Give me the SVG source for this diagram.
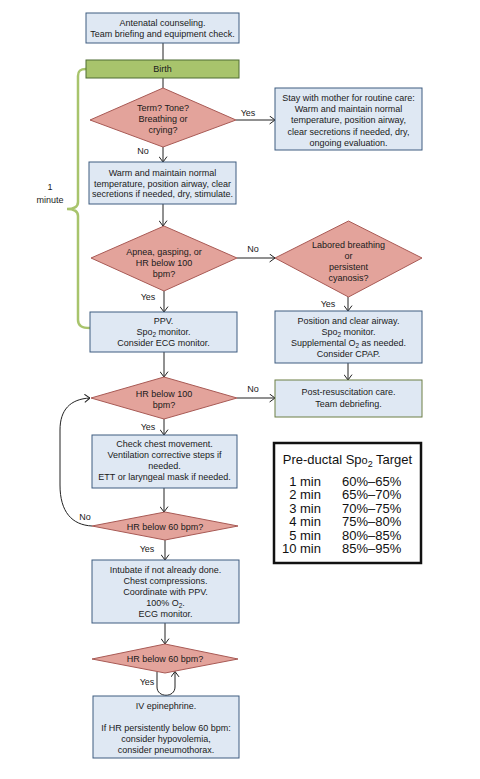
<svg xmlns="http://www.w3.org/2000/svg" width="480" height="779" viewBox="0 0 480 779">
<defs>
<marker id="ah" viewBox="0 0 6 9" refX="5.8" refY="4.5" markerWidth="6" markerHeight="9" orient="auto" markerUnits="userSpaceOnUse">
<path d="M0.4,0.5 L5.8,4.5 L0.4,8.5" fill="none" stroke="#222" stroke-width="1"/>
</marker>
<style>
.box{fill:#dfe8f3;stroke:#3e5d80;stroke-width:1}
.dia{fill:#e3a39b;stroke:#a85a55;stroke-width:1}
.grn{fill:#a8c46c;stroke:#4f6d33;stroke-width:1}
.post{fill:#dfe8f3;stroke:#6d7f45;stroke-width:1}
text{font-family:"Liberation Sans",Arial,sans-serif;font-size:9px;fill:#1a1a1a}
.c{text-anchor:middle}
.tb{font-size:13px;fill:#111}
.ln{fill:none;stroke:#222;stroke-width:1}
</style>
</defs>
<rect width="480" height="779" fill="#fff"/>

<g id="brace">
<path d="M86,69 C80,69 78,71 78,76 L78,202 C78,206 75,209 67,209 C75,209 78,212 78,216 L78,320 C78,326 82,328 90,328" fill="none" stroke="#a8c46c" stroke-width="2.5"/>
<text class="c" x="50" y="190">1</text>
<text class="c" x="50" y="202.5">minute</text>
</g>

<g id="connectors">
<path class="ln" d="M163,43 L163,60"/>
<path class="ln" d="M163,78 L163,88"/>
<path class="ln" d="M236,120 L275,120" marker-end="url(#ah)"/>
<path class="ln" d="M163,147 L163,162" marker-end="url(#ah)"/>
<path class="ln" d="M163,204 L163,226" marker-end="url(#ah)"/>
<path class="ln" d="M237,258 L275,258" marker-end="url(#ah)"/>
<path class="ln" d="M164,291 L164,312" marker-end="url(#ah)"/>
<path class="ln" d="M348,297 L348,311" marker-end="url(#ah)"/>
<path class="ln" d="M348,363 L348,380" marker-end="url(#ah)"/>
<path class="ln" d="M164,352 L164,377" marker-end="url(#ah)"/>
<path class="ln" d="M237,398 L275,398" marker-end="url(#ah)"/>
<path class="ln" d="M164,419 L164,435" marker-end="url(#ah)"/>
<path class="ln" d="M164,488 L164,512" marker-end="url(#ah)"/>
<path class="ln" d="M165,540 L165,560" marker-end="url(#ah)"/>
<path class="ln" d="M165,623 L165,644" marker-end="url(#ah)"/>
<path class="ln" d="M92,526 C72,525 60,512 60,485 L60,430 C60,410 70,399 90,398" marker-end="url(#ah)"/>
<path class="ln" d="M157,672 L157,687 C157,698 175,698 175,687 L175,671.5" marker-end="url(#ah)"/>
<text class="c" x="248" y="116">Yes</text>
<text class="c" x="143" y="154">No</text>
<text class="c" x="253" y="252">No</text>
<text class="c" x="148" y="300">Yes</text>
<text class="c" x="328" y="307">Yes</text>
<text class="c" x="253" y="392">No</text>
<text class="c" x="148" y="430">Yes</text>
<text class="c" x="85" y="520">No</text>
<text class="c" x="147" y="552">Yes</text>
<text class="c" x="147" y="685">Yes</text>
</g>

<g id="antenatal">
<rect class="box" x="86" y="13" width="153" height="30"/>
<text class="c" x="162.5" y="25.5">Antenatal counseling.</text>
<text class="c" x="162.5" y="36.5">Team briefing and equipment check.</text>
</g>

<g id="birth">
<rect class="grn" x="86" y="60" width="153" height="18"/>
<text class="c" x="162.5" y="72">Birth</text>
</g>

<g id="term">
<polygon class="dia" points="163,88 236,120 163,147 90,120"/>
<text class="c" x="163" y="110.5">Term? Tone?</text>
<text class="c" x="163" y="121.5">Breathing or</text>
<text class="c" x="163" y="132.5">crying?</text>
</g>

<g id="routine">
<rect class="box" x="275" y="88" width="147" height="62"/>
<text class="c" x="348.5" y="101">Stay with mother for routine care:</text>
<text class="c" x="348.5" y="112">Warm and maintain normal</text>
<text class="c" x="348.5" y="123">temperature, position airway,</text>
<text class="c" x="348.5" y="134.5">clear secretions if needed, dry,</text>
<text class="c" x="348.5" y="145.5">ongoing evaluation.</text>
</g>

<g id="warm">
<rect class="box" x="89" y="162" width="147" height="42"/>
<text class="c" x="162.5" y="175.5">Warm and maintain normal</text>
<text class="c" x="162.5" y="186.5">temperature, position airway, clear</text>
<text class="c" x="162.5" y="197">secretions if needed, dry, stimulate.</text>
</g>

<g id="apnea">
<polygon class="dia" points="164,226 237,258 164,291 91,258"/>
<text class="c" x="164" y="255">Apnea, gasping, or</text>
<text class="c" x="164" y="266">HR below 100</text>
<text class="c" x="164" y="277">bpm?</text>
</g>

<g id="labored">
<polygon class="dia" points="348.5,221 422,258 348.5,297 275,258"/>
<text class="c" x="348.5" y="248">Labored breathing</text>
<text class="c" x="348.5" y="259">or</text>
<text class="c" x="348.5" y="270">persistent</text>
<text class="c" x="348.5" y="281">cyanosis?</text>
</g>

<g id="ppv">
<rect class="box" x="90" y="312" width="147" height="40"/>
<text class="c" x="163.5" y="324">PPV.</text>
<text class="c" x="163.5" y="335">Spo<tspan font-size="6.5" dy="2">2</tspan><tspan dy="-2"> monitor.</tspan></text>
<text class="c" x="163.5" y="346">Consider ECG monitor.</text>
</g>

<g id="position">
<rect class="box" x="275" y="311" width="147" height="52"/>
<text class="c" x="348.5" y="324">Position and clear airway.</text>
<text class="c" x="348.5" y="335">Spo<tspan font-size="6.5" dy="2">2</tspan><tspan dy="-2"> monitor.</tspan></text>
<text class="c" x="348.5" y="346">Supplemental O<tspan font-size="6.5" dy="2">2</tspan><tspan dy="-2"> as needed.</tspan></text>
<text class="c" x="348.5" y="357">Consider CPAP.</text>
</g>

<g id="post">
<rect class="post" x="275" y="380" width="147" height="37"/>
<text class="c" x="348.5" y="395">Post-resuscitation care.</text>
<text class="c" x="348.5" y="406.5">Team debriefing.</text>
</g>

<g id="hr100">
<polygon class="dia" points="164,377 237,398 164,419 91,398"/>
<text class="c" x="164" y="397">HR below 100</text>
<text class="c" x="164" y="408">bpm?</text>
</g>

<g id="chest">
<rect class="box" x="92" y="435" width="145" height="53"/>
<text class="c" x="164.5" y="447">Check chest movement.</text>
<text class="c" x="164.5" y="458">Ventilation corrective steps if</text>
<text class="c" x="164.5" y="469">needed.</text>
<text class="c" x="164.5" y="480">ETT or laryngeal mask if needed.</text>
</g>

<g id="hr60a">
<polygon class="dia" points="165,512 238,526 165,540 92,526"/>
<text class="c" x="165" y="529.5">HR below 60 bpm?</text>
</g>

<g id="intubate">
<rect class="box" x="92" y="560" width="147" height="63"/>
<text class="c" x="165.5" y="573">Intubate if not already done.</text>
<text class="c" x="165.5" y="584">Chest compressions.</text>
<text class="c" x="165.5" y="595">Coordinate with PPV.</text>
<text class="c" x="165.5" y="606">100% O<tspan font-size="6.5" dy="2">2</tspan><tspan dy="-2">.</tspan></text>
<text class="c" x="165.5" y="617">ECG monitor.</text>
</g>

<g id="hr60b">
<polygon class="dia" points="165,644 238,659 165,673 92,659"/>
<text class="c" x="165" y="662">HR below 60 bpm?</text>
</g>

<g id="epi">
<rect class="box" x="93" y="696" width="146" height="62"/>
<text class="c" x="166" y="709">IV epinephrine.</text>
<text class="c" x="166" y="731">If HR persistently below 60 bpm:</text>
<text class="c" x="166" y="741.5">consider hypovolemia,</text>
<text class="c" x="166" y="752.5">consider pneumothorax.</text>
</g>

<g id="target">
<rect x="274" y="443" width="147" height="120" fill="#fff" stroke="#111" stroke-width="2.5"/>
<text class="tb c" x="347.5" y="464">Pre-ductal Sp<tspan font-size="11">o</tspan><tspan font-size="9" dy="2.5">2</tspan><tspan dy="-2.5"> Target</tspan></text>
<g class="tb" text-anchor="end">
<text class="tb" text-anchor="end" x="321" y="486">1 min</text>
<text class="tb" text-anchor="end" x="321" y="499.4">2 min</text>
<text class="tb" text-anchor="end" x="321" y="512.8">3 min</text>
<text class="tb" text-anchor="end" x="321" y="526.2">4 min</text>
<text class="tb" text-anchor="end" x="321" y="539.6">5 min</text>
<text class="tb" text-anchor="end" x="321" y="553">10 min</text>
</g>
<text class="tb" x="342" y="486">60%–65%</text>
<text class="tb" x="342" y="499.4">65%–70%</text>
<text class="tb" x="342" y="512.8">70%–75%</text>
<text class="tb" x="342" y="526.2">75%–80%</text>
<text class="tb" x="342" y="539.6">80%–85%</text>
<text class="tb" x="342" y="553">85%–95%</text>
</g>
</svg>
